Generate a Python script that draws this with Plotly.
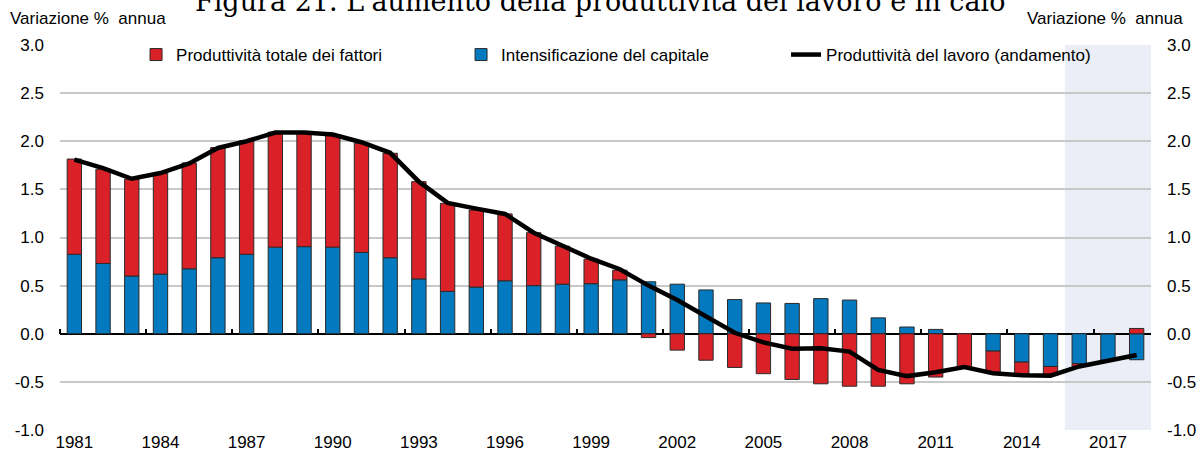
import plotly.graph_objects as go

years = list(range(1981, 2019))

capital_deepening = [0.825, 0.73, 0.60, 0.62, 0.675, 0.79, 0.825, 0.90, 0.905, 0.90,
                     0.845, 0.79, 0.57, 0.44, 0.485, 0.55, 0.50, 0.515, 0.52, 0.56,
                     0.54, 0.515, 0.455, 0.355, 0.32, 0.315, 0.365, 0.35, 0.165, 0.07,
                     0.045, 0.0, -0.18, -0.295, -0.34, -0.31, -0.275, -0.27]

tfp = [0.99, 0.98, 1.005, 1.05, 1.10, 1.145, 1.18, 1.195, 1.19, 1.17,
       1.135, 1.085, 1.01, 0.915, 0.80, 0.695, 0.55, 0.395, 0.255, 0.10,
       -0.04, -0.17, -0.275, -0.35, -0.415, -0.475, -0.52, -0.545, -0.545, -0.52,
       -0.45, -0.345, -0.22, -0.12, -0.09, -0.03, 0.0, 0.055]

labour_productivity = [1.81, 1.72, 1.61, 1.67, 1.77, 1.93, 2.00, 2.09, 2.09, 2.07,
                       1.99, 1.88, 1.58, 1.36, 1.30, 1.245, 1.05, 0.91, 0.78, 0.67,
                       0.50, 0.35, 0.175, 0.01, -0.09, -0.155, -0.15, -0.185, -0.375, -0.44,
                       -0.40, -0.345, -0.41, -0.43, -0.435, -0.34, -0.28, -0.22]

tick_years = list(range(1981, 2018, 3))
y_ticks = [-1.0, -0.5, 0.0, 0.5, 1.0, 1.5, 2.0, 2.5, 3.0]
y_ticktext = [f"{v:.1f}" for v in y_ticks]
projection_start = 2016
projection_end = 2018

title_text = "Figura 21. L'aumento della produttività del lavoro è in calo"
unit_text = "Variazione %  annua"
name_tfp = "Produttività totale dei fattori"
name_cap = "Intensificazione del capitale"
name_lp = "Produttività del lavoro (andamento)"

RED = "#DA2128"
BLUE = "#0379BF"
SHADE = "#EBEEF7"
FONT = "Liberation Sans"

x_range = [years[0] - 0.5, years[-1] + 0.5]
y_range = [y_ticks[0], y_ticks[-1]]

fig = go.Figure()

fig.add_trace(go.Bar(
    x=years, y=capital_deepening, name=name_cap, legendrank=2,
    marker=dict(color=BLUE, line=dict(color="#2a2a2a", width=1)),
))
fig.add_trace(go.Bar(
    x=years, y=tfp, name=name_tfp, legendrank=1,
    marker=dict(color=RED, line=dict(color="#2a2a2a", width=1)),
))
fig.add_trace(go.Scatter(
    x=years, y=labour_productivity, name=name_lp, legendrank=3,
    mode="lines", line=dict(color="black", width=4.5),
    xaxis="x2", yaxis="y",
))
# invisible trace so the right-hand axis is drawn
fig.add_trace(go.Scatter(
    x=years, y=labour_productivity, mode="lines", line=dict(color="rgba(0,0,0,0)", width=0),
    showlegend=False, hoverinfo="skip", xaxis="x", yaxis="y2",
))

fig.add_vrect(x0=projection_start - 0.5, x1=projection_end + 0.5,
              fillcolor=SHADE, line_width=0, layer="below")

fig.update_layout(
    width=1200, height=455,
    margin=dict(l=60, r=49, t=45, b=25, autoexpand=False),
    paper_bgcolor="white", plot_bgcolor="white",
    barmode="relative", bargap=0.5,
    font=dict(family=FONT, size=17, color="black"),
    showlegend=True,
    legend=dict(
        orientation="h", x=0.0697, y=0.974, xanchor="left", yanchor="middle",
        bgcolor="rgba(0,0,0,0)", font=dict(size=17),
        entrywidth=280, entrywidthmode="pixels", traceorder="normal",
    ),
    xaxis=dict(
        range=x_range, tickvals=tick_years, ticks="", showgrid=False,
        zeroline=False, showline=False, tickfont=dict(size=17),
    ),
    xaxis2=dict(
        range=x_range, overlaying="x", side="top", anchor="free",
        position=(0 - y_range[0]) / (y_range[1] - y_range[0]),
        tickvals=[y - 0.5 for y in tick_years], ticks="outside", ticklen=5,
        tickcolor="black", tickwidth=1.5, showticklabels=False,
        showgrid=False, zeroline=False, showline=False,
    ),
    yaxis=dict(
        range=y_range, tickvals=y_ticks, ticktext=y_ticktext, showgrid=True,
        gridcolor="#C8C8C8", gridwidth=2, zeroline=True, zerolinecolor="black",
        zerolinewidth=1.5, ticks="", ticklabelstandoff=15, tickfont=dict(size=17),
    ),
    yaxis2=dict(
        range=y_range, tickvals=y_ticks, ticktext=y_ticktext, overlaying="y", side="right",
        showgrid=False, zeroline=False, ticks="", ticklabelstandoff=15,
        tickfont=dict(size=17),
    ),
    annotations=[
        dict(text=title_text, xref="paper", yref="paper", x=0.495, y=1.114,
             xanchor="center", yanchor="middle", showarrow=False,
             font=dict(family="DejaVu Serif", size=27, color="black")),
        dict(text=unit_text, xref="paper", yref="paper", x=-0.0476, y=1.07,
             xanchor="left", yanchor="middle", showarrow=False, font=dict(size=17)),
        dict(text=unit_text, xref="paper", yref="paper", x=1.031, y=1.07,
             xanchor="right", yanchor="middle", showarrow=False, font=dict(size=17)),
    ],
)

fig.write_html("out.html", config={"displayModeBar": False},
               post_script="document.body.style.margin = '0px';")
